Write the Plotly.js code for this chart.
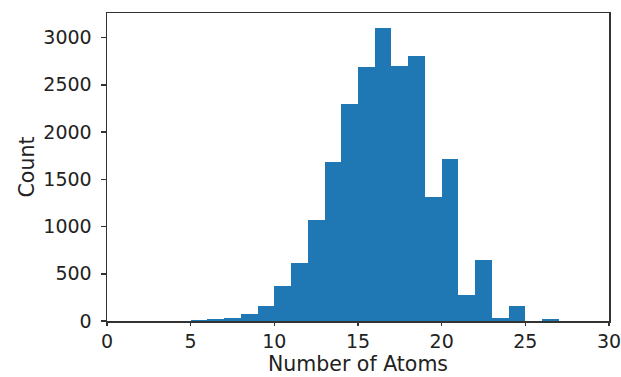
<!DOCTYPE html>
<html>
<head>
<meta charset="utf-8">
<script src="https://cdn.plot.ly/plotly-3.0.1.min.js"></script>
<style>html,body{margin:0;padding:0;background:#fff;}#chart{width:621px;height:377px;}</style>
</head>
<body>
<div id="chart"></div>
<script>
// Histogram bins (left edge, number of atoms) and counts
const binStarts = [5, 6, 7, 8, 9, 10, 11, 12, 13, 14, 15, 16, 17, 18, 19, 20, 21, 22, 23, 24, 25, 26];
const counts    = [15, 18, 35, 71, 159, 371, 615, 1068, 1687, 2299, 2688, 3105, 2702, 2805, 1309, 1715, 276, 647, 35, 159, 0, 18];
const xTicks = [0, 5, 10, 15, 20, 25, 30];
const yTicks = [0, 500, 1000, 1500, 2000, 2500, 3000];
const xTitle = 'Number of Atoms';
const yTitle = 'Count';

const tickFont = {family: 'DejaVu Sans, sans-serif', size: 19, color: '#222'};
const titleFont = {family: 'DejaVu Sans, sans-serif', size: 20.5, color: '#222'};

Plotly.newPlot('chart', [{
  type: 'bar',
  x: binStarts,
  y: counts,
  width: 1,
  offset: 0,
  marker: {color: '#1f77b4', line: {width: 0}},
  hoverinfo: 'x+y'
}], {
  width: 621, height: 377,
  margin: {l: 107, r: 12, t: 13, b: 56},
  paper_bgcolor: '#fff', plot_bgcolor: '#fff',
  showlegend: false,
  bargap: 0,
  font: tickFont,
  xaxis: {
    range: [0, 30], tickvals: xTicks, ticktext: xTicks.map(String),
    showgrid: false, zeroline: false,
    showline: true, mirror: true, linecolor: '#333', linewidth: 1.5,
    ticks: 'outside', ticklen: 3, tickcolor: '#333', tickwidth: 1.5,
    ticklabeloverflow: 'allow',
    tickfont: tickFont
  },
  yaxis: {
    range: [0, 3260], tickvals: yTicks, ticktext: yTicks.map(String),
    showgrid: false, zeroline: false,
    showline: true, mirror: true, linecolor: '#333', linewidth: 1.5,
    ticks: 'outside', ticklen: 5, tickcolor: '#333', tickwidth: 1.5,
    ticklabelstandoff: 5,
    tickfont: tickFont,
    title: {text: yTitle, font: titleFont, standoff: 3}
  },
  annotations: [{
    text: xTitle, font: titleFont, showarrow: false,
    xref: 'paper', yref: 'paper', x: 0.5, y: -0.1815,
    xanchor: 'center', yanchor: 'bottom', borderpad: 0
  }]
}, {displayModeBar: false, staticPlot: true});
</script>
</body>
</html>
